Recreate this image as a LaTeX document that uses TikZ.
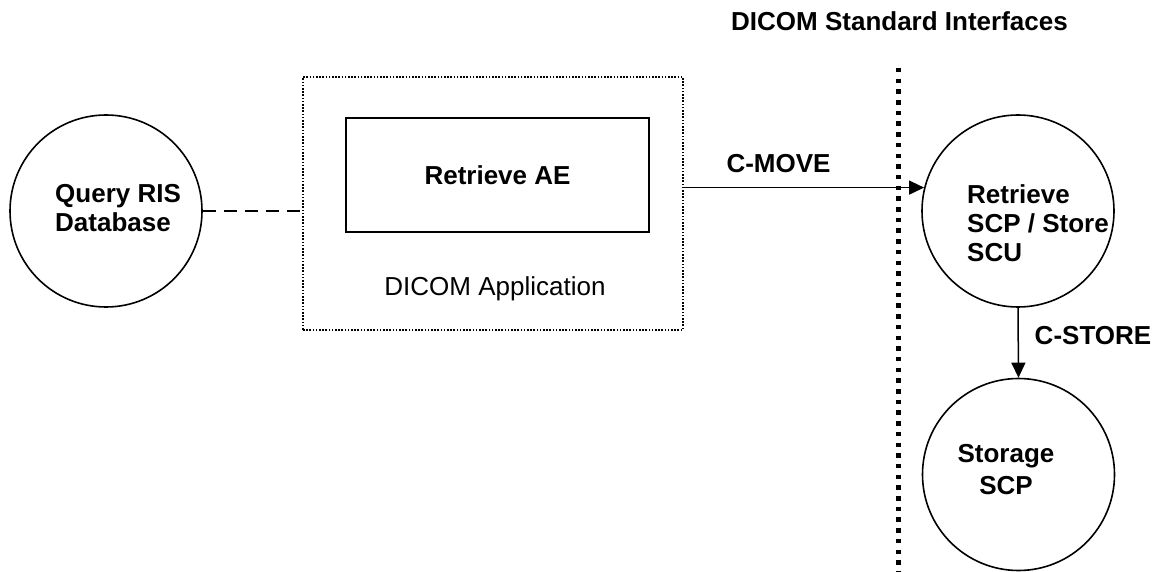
\documentclass[tikz,border=0pt]{standalone}
\usepackage{fontspec}
\setmainfont{Liberation Sans}
\usetikzlibrary{arrows.meta}
\begin{document}
\begin{tikzpicture}[x=1pt,y=-1pt,
  lbl/.style={font=\bfseries\fontsize{26}{29}\selectfont, inner sep=0pt},
  plain/.style={font=\fontsize{26}{29}\selectfont, inner sep=0pt},
  circ/.style={draw, circle, line width=1.6pt, minimum size=192pt, inner sep=0pt},
  arr/.style={line width=1.5pt, -{Triangle[length=15pt,width=14pt]}},
  dotbox/.style={draw, line width=1.6pt, dash pattern=on 1.6pt off 1.6pt, minimum width=380pt, minimum height=253pt, inner sep=0pt},
  aestyle/.style={draw, line width=1.8pt, minimum width=303pt, minimum height=114pt, inner sep=0pt},
  dashline/.style={line width=1.5pt, dash pattern=on 13pt off 8pt},
  border/.style={line width=4.5pt, dash pattern=on 4.5pt off 6.2pt}
]
\useasboundingbox (0,0) rectangle (1160,572);

% header and boundary
\node[lbl] (header) at (899.5,21.5) {DICOM Standard Interfaces};
\coordinate (dtop) at (898.5,68);
\coordinate (dbot) at (898.5,572);
\draw[border] (dtop) -- (dbot);

% Query RIS database
\node[circ] (qris) at (106,211) {};
\node[lbl, anchor=west, align=left] (qrist) at (55,208) {Query RIS\\Database};

% DICOM application box
\node[dotbox] (appbox) at (493,203.5) {};
\node[aestyle, lbl] (aebox) at (497.5,175) {Retrieve AE};
\node[plain] (apptext) at (495,289) {DICOM Application};

% Retrieve SCP / Store SCU
\node[circ] (rscp) at (1018,211) {};
\node[lbl, anchor=west, align=left] (rscpt) at (967,223) {Retrieve\\SCP / Store\\SCU};

% Storage SCP
\node[circ] (stor) at (1018.5,474.5) {};
\node[lbl, font=\bfseries\fontsize{26}{32}\selectfont, align=center] (stort) at (1006,469.5) {Storage\\SCP};

% connectors
\draw[dashline] (qris.east) -- (appbox.west |- qris.east);
\draw[arr] (appbox.east |- rscp.166) -- (rscp.166);
\node[lbl] (cmove) at (778.5,164) {C-MOVE};
\draw[arr] (rscp.south) -- (stor.north);
\node[lbl] (cstore) at (1093,335.5) {C-STORE};
\end{tikzpicture}
\end{document}
